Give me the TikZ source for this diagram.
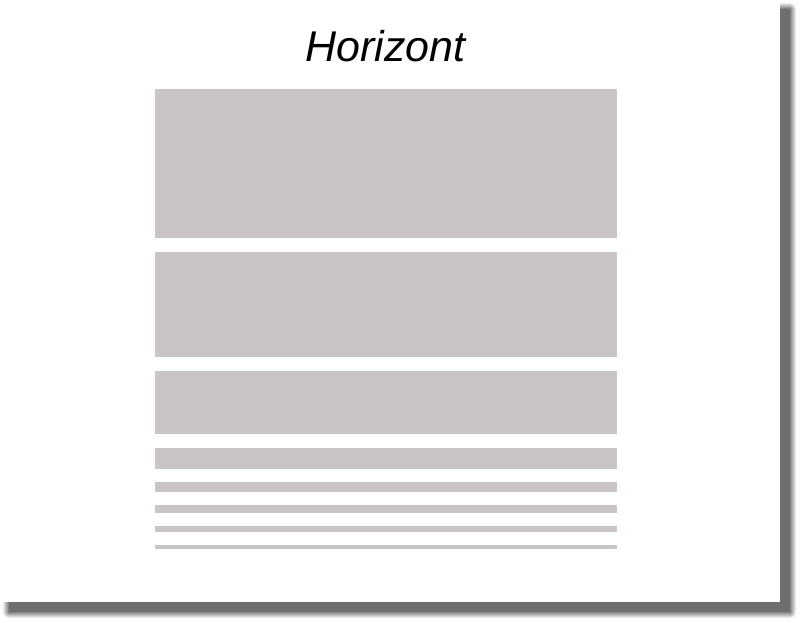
\documentclass[tikz,border=0pt]{standalone}
\usepackage{fontspec}
\setmainfont{Liberation Sans}
\definecolor{bandgray}{HTML}{C9C5C5}
\definecolor{shadowgray}{HTML}{5E5E5E}
\tikzset{
  band/.style={fill=bandgray, draw=none},
  titletext/.style={font=\fontsize{43}{50}\selectfont\itshape, inner sep=0pt, anchor=base},
}
\begin{document}
\begin{tikzpicture}[x=1pt,y=-1pt]
\useasboundingbox (0,0) rectangle (800,622);
% soft shadow
\foreach \i/\o in {6/0.12,5/0.14,4/0.16,3/0.2,2/0.25,1/0.35,0/0.6}{
  \fill[shadowgray, opacity=\o, rounded corners=\i pt] ({9-\i},{9-\i}) rectangle ({790+\i},{612+\i});
}
% page
\fill[white] (0,0) rectangle (780,602);
% title
\node[titletext] (title) at (385.5,61) {Horizont};
% bands
\fill[band] (155,89) rectangle (617,238);
\fill[band] (155,252) rectangle (617,357);
\fill[band] (155,371) rectangle (617,434);
\fill[band] (155,448) rectangle (617,469);
\fill[band] (155,482) rectangle (617,492);
\fill[band] (155,505) rectangle (617,513);
\fill[band] (155,526) rectangle (617,532);
\fill[band] (155,545) rectangle (617,549);
\end{tikzpicture}
\end{document}
